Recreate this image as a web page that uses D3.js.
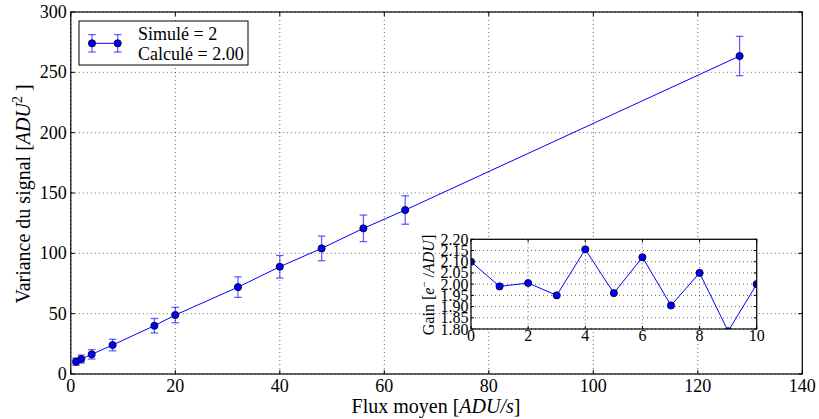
<!DOCTYPE html>
<html><head><meta charset="utf-8">
<script src="https://cdn.jsdelivr.net/npm/d3@7/dist/d3.min.js"></script>
<style>
body{margin:0;background:#fff;}
</style></head>
<body><svg id="c" width="819" height="419"></svg>
<script>
// Main series
const flux = [1, 2, 4, 8, 16, 20, 32, 40, 48, 56, 64, 128];
const variance = [10.2, 12.4, 16.3, 24, 40, 48.9, 72, 88.9, 104.1, 120.7, 135.9, 263.5];
const varErr = [3.0, 3.3, 3.9, 4.8, 6.0, 6.4, 8.5, 9.4, 10.2, 11.0, 11.8, 16.3];
const xTicks = [0, 20, 40, 60, 80, 100, 120, 140];
const yTicks = [0, 50, 100, 150, 200, 250, 300];
// Inset series
const runIdx = [0, 1, 2, 3, 4, 5, 6, 7, 8, 9, 10];
const gain = [2.10, 1.99, 2.005, 1.95, 2.155, 1.96, 2.12, 1.905, 2.05, 1.79, 2.00];
const insetXTicks = [0, 2, 4, 6, 8, 10];
const insetYTicks = [1.80, 1.85, 1.90, 1.95, 2.00, 2.05, 2.10, 2.15, 2.20];
const legendLabels = ["Simulé = 2", "Calculé = 2.00"];

const FONT = "Liberation Serif";
const svg = d3.select("#c");
const blue = "#0000ff";
const errBlue = "rgba(0,0,255,0.6)";
const R = 3.6;

const M = {l: 70.8, r: 802.3, t: 12, b: 374};
const x = d3.scaleLinear().domain([0, 140]).range([M.l, M.r]);
const y = d3.scaleLinear().domain([0, 300]).range([M.b, M.t]);

function txt(sel) { return sel.append("text").attr("font-family", FONT).attr("fill", "#000"); }

function grid(g, xs, ys, xT, yT, L, Rt, T, B) {
  g.selectAll(".gx").data(xT).join("line")
    .attr("x1", d => xs(d)).attr("x2", d => xs(d)).attr("y1", T).attr("y2", B)
    .attr("stroke", "#000").attr("stroke-width", 1).attr("stroke-dasharray", "1,3").attr("opacity", 0.6);
  g.selectAll(".gy").data(yT).join("line")
    .attr("y1", d => ys(d)).attr("y2", d => ys(d)).attr("x1", L).attr("x2", Rt)
    .attr("stroke", "#000").attr("stroke-width", 1).attr("stroke-dasharray", "1,3").attr("opacity", 0.6);
}
function frameTicks(g, xs, ys, xT, yT, L, Rt, T, B, len) {
  xT.forEach(d => {
    g.append("line").attr("x1", xs(d)).attr("x2", xs(d)).attr("y1", B).attr("y2", B - len).attr("stroke", "#000");
    g.append("line").attr("x1", xs(d)).attr("x2", xs(d)).attr("y1", T).attr("y2", T + len).attr("stroke", "#000");
  });
  yT.forEach(d => {
    g.append("line").attr("y1", ys(d)).attr("y2", ys(d)).attr("x1", L).attr("x2", L + len).attr("stroke", "#000");
    g.append("line").attr("y1", ys(d)).attr("y2", ys(d)).attr("x1", Rt).attr("x2", Rt - len).attr("stroke", "#000");
  });
  g.append("rect").attr("x", L).attr("y", T).attr("width", Rt - L).attr("height", B - T)
    .attr("fill", "none").attr("stroke", "#000").attr("stroke-width", 1.2);
}

// Main plot
const gm = svg.append("g");
grid(gm, x, y, xTicks, yTicks, M.l, M.r, M.t, M.b);

const eb = gm.append("g");
flux.forEach((f, i) => {
  const cx = x(f);
  eb.append("line").attr("x1", cx).attr("x2", cx).attr("y1", y(variance[i] - varErr[i])).attr("y2", y(variance[i] + varErr[i])).attr("stroke", errBlue).attr("stroke-width", 1.3);
  [variance[i] - varErr[i], variance[i] + varErr[i]].forEach(v => {
    eb.append("line").attr("x1", cx - 3.8).attr("x2", cx + 3.8).attr("y1", y(v)).attr("y2", y(v)).attr("stroke", errBlue).attr("stroke-width", 1.3);
  });
});
gm.append("path").datum(flux.map((f, i) => [f, variance[i]]))
  .attr("d", d3.line().x(d => x(d[0])).y(d => y(d[1])))
  .attr("fill", "none").attr("stroke", blue).attr("stroke-width", 1);
gm.selectAll(".pt").data(flux.map((f, i) => [f, variance[i]])).join("circle")
  .attr("cx", d => x(d[0])).attr("cy", d => y(d[1])).attr("r", R)
  .attr("fill", blue).attr("stroke", "#000").attr("stroke-width", 0.8);

frameTicks(gm, x, y, xTicks, yTicks, M.l, M.r, M.t, M.b, 4);

xTicks.forEach(d => txt(gm).attr("x", x(d)).attr("y", M.b + 18).attr("text-anchor", "middle").attr("font-size", 18).text(d));
yTicks.forEach(d => txt(gm).attr("x", M.l - 4).attr("y", y(d) + 6).attr("text-anchor", "end").attr("font-size", 18).text(d));

const xl = txt(svg).attr("x", 436).attr("y", 413).attr("text-anchor", "middle").attr("font-size", 20);
xl.append("tspan").text("Flux moyen [");
xl.append("tspan").attr("font-style", "italic").text("ADU/s");
xl.append("tspan").text("]");

const yl = txt(svg).attr("transform", "translate(30,194) rotate(-90)").attr("text-anchor", "middle").attr("font-size", 20);
yl.append("tspan").text("Variance du signal [");
yl.append("tspan").attr("font-style", "italic").text("ADU");
yl.append("tspan").attr("font-size", 14).attr("dy", -8).text("2");
yl.append("tspan").attr("dy", 8).text(" ]");

// Legend
const lg = svg.append("g");
lg.append("rect").attr("x", 79).attr("y", 21).attr("width", 169).attr("height", 44)
  .attr("fill", "#fff").attr("stroke", "#000").attr("stroke-width", 1);
const lx1 = 92, lx2 = 117.7, ly = 43.3;
lg.append("line").attr("x1", lx1).attr("x2", lx2).attr("y1", ly).attr("y2", ly).attr("stroke", blue);
[lx1, lx2].forEach(px => {
  lg.append("line").attr("x1", px).attr("x2", px).attr("y1", ly - 8.7).attr("y2", ly + 8.7).attr("stroke", errBlue).attr("stroke-width", 1.3);
  lg.append("line").attr("x1", px - 3.8).attr("x2", px + 3.8).attr("y1", ly - 8.7).attr("y2", ly - 8.7).attr("stroke", errBlue).attr("stroke-width", 1.3);
  lg.append("line").attr("x1", px - 3.8).attr("x2", px + 3.8).attr("y1", ly + 8.7).attr("y2", ly + 8.7).attr("stroke", errBlue).attr("stroke-width", 1.3);
  lg.append("circle").attr("cx", px).attr("cy", ly).attr("r", R).attr("fill", blue).attr("stroke", "#000").attr("stroke-width", 0.8);
});
legendLabels.forEach((d, i) => txt(lg).attr("x", 138).attr("y", 40 + i * 20).attr("font-size", 18).text(d));

// Inset
const I = {l: 471, r: 756.7, t: 239.3, b: 329};
const xi = d3.scaleLinear().domain([0, 10]).range([I.l, I.r]);
const yi = d3.scaleLinear().domain([1.80, 2.20]).range([I.b, I.t]);
const gi = svg.append("g");
gi.append("rect").attr("x", I.l).attr("y", I.t).attr("width", I.r - I.l).attr("height", I.b - I.t).attr("fill", "#fff");
grid(gi, xi, yi, insetXTicks, insetYTicks, I.l, I.r, I.t, I.b);
svg.append("clipPath").attr("id", "ic").append("rect").attr("x", I.l).attr("y", I.t).attr("width", I.r - I.l).attr("height", I.b - I.t);
const gd = gi.append("g").attr("clip-path", "url(#ic)");
gd.append("path").datum(runIdx.map((r, i) => [r, gain[i]]))
  .attr("d", d3.line().x(d => xi(d[0])).y(d => yi(d[1])))
  .attr("fill", "none").attr("stroke", blue).attr("stroke-width", 1);
gd.selectAll(".ip").data(runIdx.map((r, i) => [r, gain[i]])).join("circle")
  .attr("cx", d => xi(d[0])).attr("cy", d => yi(d[1])).attr("r", R)
  .attr("fill", blue).attr("stroke", "#000").attr("stroke-width", 0.8);
frameTicks(gi, xi, yi, insetXTicks, insetYTicks, I.l, I.r, I.t, I.b, 3);
insetXTicks.forEach(d => txt(gi).attr("x", xi(d)).attr("y", 341).attr("text-anchor", "middle").attr("font-size", 16).text(d));
insetYTicks.forEach(d => txt(gi).attr("x", 468.5).attr("y", yi(d) + 5.5).attr("text-anchor", "end").attr("font-size", 16).text(d.toFixed(2)));
const il = txt(svg).attr("transform", "translate(434,285) rotate(-90)").attr("text-anchor", "middle").attr("font-size", 16);
il.append("tspan").text("Gain [");
il.append("tspan").attr("font-style", "italic").text("e");
il.append("tspan").attr("font-size", 11).attr("dy", -6).text("−");
il.append("tspan").attr("dy", 6).text(" /");
il.append("tspan").attr("font-style", "italic").text("ADU");
il.append("tspan").text("]");
</script></body></html>
